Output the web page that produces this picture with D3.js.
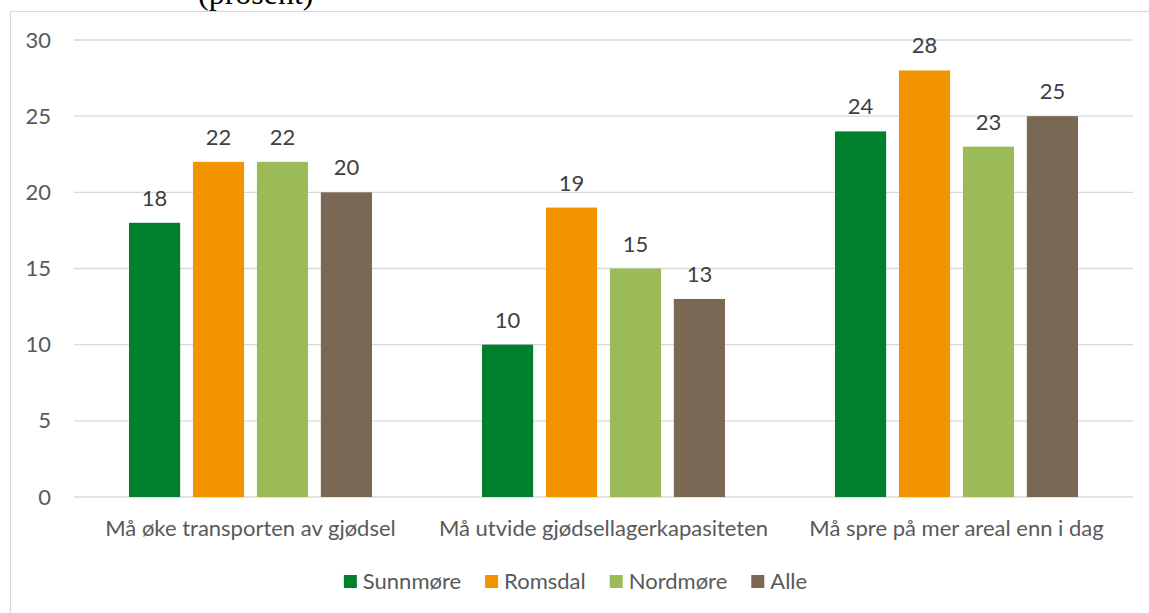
<!DOCTYPE html>
<html>
<head>
<meta charset="utf-8">
<script src="https://cdn.jsdelivr.net/npm/d3@7"></script>
<style>
  body { margin: 0; background: #fff; }
  svg { display: block; }
  text { font-family: Lato, "Open Sans", sans-serif; }
</style>
</head>
<body>
<div id="chart"></div>
<script>
const categories = ['Må øke transporten av gjødsel', 'Må utvide gjødsellagerkapasiteten', 'Må spre på mer areal enn i dag'];
const seriesNames = ['Sunnmøre', 'Romsdal', 'Nordmøre', 'Alle'];
const sunnmore = [18, 10, 24];
const romsdal = [22, 19, 28];
const nordmore = [22, 15, 23];
const alle = [20, 13, 25];
const yTicks = [0, 5, 10, 15, 20, 25, 30];
const colors = ['#007f2d', '#f29400', '#9bbb59', '#7a6854'];

const width = 1149, height = 613;
const margin = {left: 74, right: 16, top: 40, bottom: 116};
const fontSize = '22px';

const svg = d3.select('#chart').append('svg')
    .attr('width', width)
    .attr('height', height);

// leftover title from the document above the chart (cut off like in the source)
svg.append('text')
    .attr('x', 198)
    .attr('y', 4)
    .style('font-family', '"Liberation Serif", "Times New Roman", serif')
    .style('font-size', '32px')
    .attr('fill', '#000')
    .text('(prosent)');

// chart area border
svg.append('rect')
    .attr('x', 10.5).attr('y', 11.5)
    .attr('width', 1160).attr('height', 700)
    .attr('fill', 'none')
    .attr('stroke', '#d9d9d9')
    .attr('stroke-width', 1.2);

const data = categories.map((c, i) => ({
    cat: c,
    values: [sunnmore[i], romsdal[i], nordmore[i], alle[i]]
}));

const x0 = d3.scaleBand()
    .domain(categories)
    .range([margin.left, width - margin.right]);

const x1 = d3.scaleBand()
    .domain(d3.range(seriesNames.length))
    .range([55, x0.bandwidth() - 55])
    .paddingInner(0.2);

const y = d3.scaleLinear()
    .domain([0, 30])
    .range([height - margin.bottom, margin.top]);

// gridlines
svg.append('g')
    .selectAll('line')
    .data(yTicks)
    .join('line')
    .attr('x1', margin.left)
    .attr('x2', width - margin.right)
    .attr('y1', d => y(d))
    .attr('y2', d => y(d))
    .attr('stroke', '#d9d9d9')
    .attr('stroke-width', 1.3);

// y axis labels
const yAxis = svg.append('g')
    .attr('transform', `translate(${margin.left},0)`)
    .call(d3.axisLeft(y).tickValues(yTicks).tickSize(0).tickPadding(23));
yAxis.select('.domain').remove();
yAxis.selectAll('text')
    .style('font-family', 'Lato, sans-serif')
    .style('font-size', fontSize)
    .attr('fill', '#595959');

// bars
const groups = svg.append('g')
    .selectAll('g')
    .data(data)
    .join('g')
    .attr('transform', d => `translate(${x0(d.cat)},0)`);

groups.selectAll('rect')
    .data(d => d.values)
    .join('rect')
    .attr('x', (d, i) => x1(i))
    .attr('width', x1.bandwidth())
    .attr('y', d => y(d))
    .attr('height', d => y(0) - y(d))
    .attr('fill', (d, i) => colors[i]);

groups.selectAll('text')
    .data(d => d.values)
    .join('text')
    .attr('x', (d, i) => x1(i) + x1.bandwidth() / 2)
    .attr('y', d => y(d) - 17)
    .attr('text-anchor', 'middle')
    .style('font-size', fontSize)
    .attr('fill', '#404040')
    .text(d => d);

// category labels
const xAxis = svg.append('g')
    .attr('transform', `translate(0,${y(0)})`)
    .call(d3.axisBottom(x0).tickSize(0).tickPadding(23));
xAxis.select('.domain').remove();
xAxis.selectAll('text')
    .style('font-family', 'Lato, sans-serif')
    .style('font-size', fontSize)
    .attr('fill', '#595959');

// legend
const legend = svg.append('g');
const items = legend.selectAll('g')
    .data(seriesNames)
    .join('g');
items.append('rect')
    .attr('y', 575)
    .attr('width', 13)
    .attr('height', 13)
    .attr('fill', (d, i) => colors[i]);
items.append('text')
    .attr('x', 19)
    .attr('y', 589)
    .style('font-size', fontSize)
    .attr('fill', '#595959')
    .text(d => d);

let offset = 0;
const positions = [];
items.each(function() {
    positions.push(offset);
    const w = d3.select(this).select('text').node().getComputedTextLength();
    offset += 19 + w + 24;
});
const totalW = offset - 24;
const startX = 575.5 - totalW / 2;
items.attr('transform', (d, i) => `translate(${startX + positions[i]},0)`);
</script>
</body>
</html>
